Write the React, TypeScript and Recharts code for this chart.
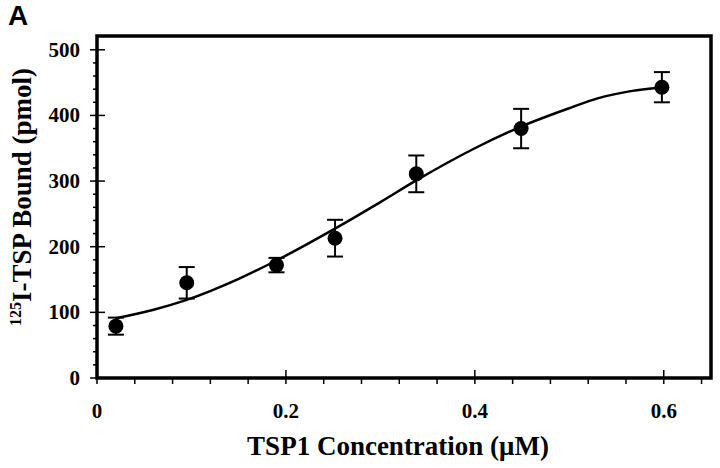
import {
  ComposedChart,
  Scatter,
  Line,
  XAxis,
  YAxis,
  ErrorBar,
  ReferenceArea,
} from "recharts";

// measured points (TSP1 µM vs bound pmol) with SD
const pointX = [0.02, 0.095, 0.19, 0.252, 0.338, 0.449, 0.598];
const pointY = [79, 145, 172, 213, 311, 380, 443];
const pointErr = [13, 24, 11, 28, 28, 30, 23];

// fitted curve
const curveX = [0.02, 0.06, 0.095, 0.15, 0.19, 0.25, 0.3, 0.338, 0.4, 0.449, 0.5, 0.53, 0.565, 0.6];
const curveY = [91, 104, 119, 151, 179, 226, 268, 301, 350, 383, 411, 426, 437, 443];

const xTicks = [0, 0.04, 0.08, 0.12, 0.16, 0.2, 0.24, 0.28, 0.32, 0.36, 0.4, 0.44, 0.48, 0.52, 0.56, 0.6, 0.64];
const xMajor = [0, 0.2, 0.4, 0.6];
const xLabels = ["0", "0.2", "0.4", "0.6"];

const yTicks = [0, 20, 40, 60, 80, 100, 120, 140, 160, 180, 200, 220, 240, 260, 280, 300, 320, 340, 360, 380, 400, 420, 440, 460, 480, 500];
const yMajor = [0, 100, 200, 300, 400, 500];
const yLabels = ["0", "100", "200", "300", "400", "500"];

const points = pointX.map((x, i) => ({ x, y: pointY[i], err: pointErr[i] }));
const curve = curveX.map((x, i) => ({ x, y: curveY[i] }));

const serif = "'Liberation Serif', 'Times New Roman', serif";

function XTick(props: any) {
  const { x, y, payload } = props;
  const idx = xMajor.findIndex((v) => Math.abs(v - payload.value) < 1e-6);
  if (idx < 0) {
    return <line x1={x} x2={x} y1={y} y2={y + 6} stroke="#000" strokeWidth={1.5} />;
  }
  return (
    <g>
      <line x1={x} x2={x} y1={y - 8} y2={y + 6} stroke="#000" strokeWidth={1.5} />
      <text x={x} y={y + 40} textAnchor="middle" fontFamily={serif} fontWeight="bold" fontSize={21} fill="#000">
        {xLabels[idx]}
      </text>
    </g>
  );
}

function YTick(props: any) {
  const { x, y, payload } = props;
  const idx = yMajor.indexOf(payload.value);
  if (idx < 0) {
    return <line x1={x - 4} x2={x} y1={y} y2={y} stroke="#000" strokeWidth={1.5} />;
  }
  return (
    <g>
      <line x1={x - 7} x2={x + 8} y1={y} y2={y} stroke="#000" strokeWidth={1.5} />
      <text x={x - 17} y={y + 7} textAnchor="end" fontFamily={serif} fontWeight="bold" fontSize={21} fill="#000">
        {yLabels[idx]}
      </text>
    </g>
  );
}

export default function App() {
  return (
    <div style={{ position: "relative", width: 720, height: 468, background: "#fff" }}>
      <style>{"body{margin:0}"}</style>
      <svg width={40} height={32} style={{ position: "absolute", left: 0, top: 0 }}>
        <text x={8} y={25} fontFamily="'Liberation Sans', Arial, sans-serif" fontWeight="bold" fontSize={28} fill="#000">
          A
        </text>
      </svg>
      <ComposedChart width={720} height={468} margin={{ top: 36, right: 9, left: 37, bottom: 50 }}>
        <XAxis
          type="number"
          dataKey="x"
          domain={[0, 0.65]}
          ticks={xTicks}
          tick={<XTick />}
          tickLine={false}
          tickSize={0}
          tickMargin={0}
          axisLine={false}
          height={40}
          interval={0}
          allowDataOverflow
          label={{
            content: () => (
              <text x={398} y={455} textAnchor="middle" fontFamily={serif} fontWeight="bold" fontSize={27} fill="#000">
                TSP1 Concentration (μM)
              </text>
            ),
          }}
        />
        <YAxis
          type="number"
          dataKey="y"
          domain={[0, 521]}
          ticks={yTicks}
          tick={<YTick />}
          tickLine={false}
          tickSize={0}
          tickMargin={0}
          axisLine={false}
          width={60}
          interval={0}
          allowDataOverflow
          label={{
            content: () => (
              <text
                transform="translate(31,197) rotate(-90)"
                textAnchor="middle"
                fontFamily={serif}
                fontWeight="bold"
                fontSize={27}
                fill="#000"
              >
                <tspan fontSize={16} dy={-10}>125</tspan>
                <tspan dy={10}>I-TSP Bound (pmol)</tspan>
              </text>
            ),
          }}
        />
        <ReferenceArea
          x1={0}
          x2={0.65}
          y1={0}
          y2={521}
          fill="none"
          stroke="#000"
          strokeWidth={3.5}
          ifOverflow="visible"
        />
        <Line
          data={curve}
          dataKey="y"
          type="monotone"
          stroke="#000"
          strokeWidth={2.5}
          dot={false}
          activeDot={false}
          isAnimationActive={false}
        />
        <Scatter
          data={points}
          dataKey="y"
          isAnimationActive={false}
          shape={(p: any) => <circle cx={p.cx} cy={p.cy} r={7.5} fill="#000" />}
        >
          <ErrorBar dataKey="err" direction="y" width={8} stroke="#000" strokeWidth={2} />
        </Scatter>
      </ComposedChart>
    </div>
  );
}
